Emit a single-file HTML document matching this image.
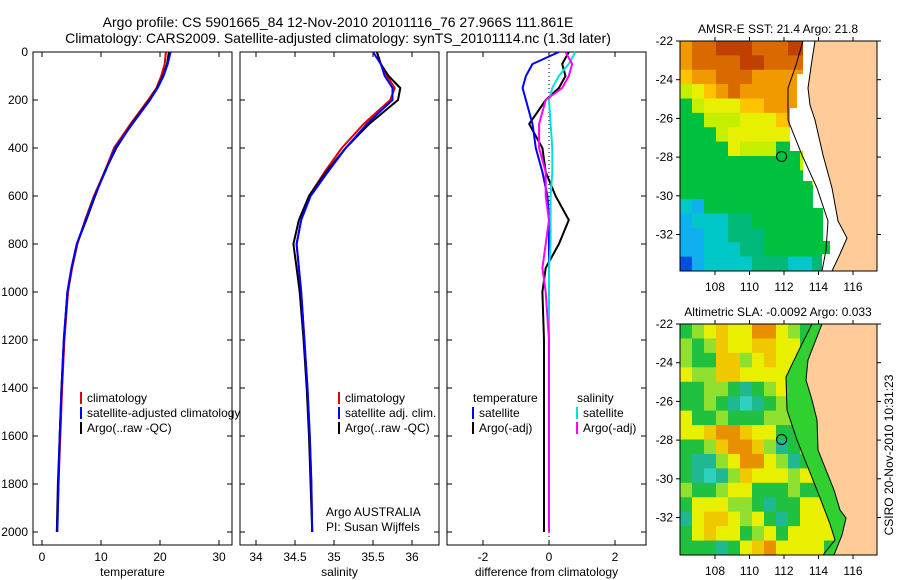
<!DOCTYPE html>
<html><head><meta charset="utf-8">
<style>
body{margin:0;background:#fff;}
svg{display:block;font-family:"Liberation Sans",sans-serif;}
text{fill:#000;}
</style></head>
<body>
<svg id="fig" width="900" height="580" viewBox="0 0 900 580" xmlns="http://www.w3.org/2000/svg">
<rect width="900" height="580" fill="#fff"/>
<text x="338" y="27" font-size="14" text-anchor="middle">Argo profile: CS 5901665_84 12-Nov-2010 20101116_76 27.966S 111.861E</text>
<text x="338" y="43" font-size="14" text-anchor="middle">Climatology: CARS2009. Satellite-adjusted climatology: synTS_20101114.nc (1.3d later)</text>
<g id="plots"></g>
<text transform="translate(893,455) rotate(-90)" font-size="12" text-anchor="middle">CSIRO 20-Nov-2010 10:31:23</text>
</svg>
<script>
// ---- data ----
const depths = [0,50,100,150,200,300,400,500,600,700,800,900,1000,1200,1400,1600,1800,2000];
const tempArgo = [21.5,21.2,20.5,19.5,18.2,15.2,12.6,10.6,9.0,7.5,5.9,5.0,4.3,3.7,3.3,3.0,2.7,2.5];
const tempClim = [21.0,20.8,20.2,19.4,18.0,15.0,12.2,10.6,8.8,7.3,6.0,5.1,4.4,3.8,3.4,3.1,2.8,2.6];
const tempSat  = [21.8,21.3,20.6,19.6,18.3,15.3,12.4,10.7,8.9,7.4,5.9,5.0,4.3,3.7,3.3,3.0,2.8,2.6];
const salArgo = [35.55,35.6,35.7,35.85,35.82,35.45,35.15,34.9,34.68,34.55,34.48,34.52,34.56,34.61,34.65,34.68,34.7,34.72];
const salClim = [35.55,35.6,35.68,35.78,35.72,35.38,35.1,34.88,34.68,34.58,34.52,34.55,34.58,34.62,34.66,34.69,34.71,34.72];
const salSat  = [35.5,35.6,35.65,35.75,35.75,35.42,35.15,34.92,34.7,34.58,34.52,34.55,34.58,34.62,34.66,34.69,34.71,34.72];
const dTempSat  = [0.3,-0.5,-0.7,-0.8,-0.7,-0.5,-0.4,-0.2,-0.05,0.0,0.0,0.0,0.0,0.0,0.0,0.0,0.0,0.0];
const dTempArgo = [0.6,0.4,0.5,0.3,-0.1,-0.6,-0.2,-0.1,0.2,0.6,0.3,-0.1,-0.2,-0.15,-0.15,-0.15,-0.15,-0.15];
const dSalSat   = [0.8,0.6,0.3,0.1,0.0,0.05,0.1,0.1,0.05,0.05,0.05,0.0,0.0,0.0,0.0,0.0,0.0,0.0];
const dSalArgo  = [0.5,0.7,0.6,0.4,-0.1,-0.3,-0.3,-0.1,-0.1,0.0,-0.1,-0.2,-0.1,0.0,0.0,0.0,0.0,0.0];
const depthTicks = [0,200,400,600,800,1000,1200,1400,1600,1800,2000];
const tempTicks = [0,10,20,30];
const salTicks = [34,34.5,35,35.5,36];
const diffTicks = [-2,0,2];
const mapLonTicks = [108,110,112,114,116];
const mapLatTicks = [-22,-24,-26,-28,-30,-32];
const sstGrid = [
"Ooorrrooorrooo","Ooooorrooooroo","yOOoooOOOOOOyy","lYyOoOOOOOOyyy",
"GlYYYyyOOOyyyy","GGlllYYYyOOyyy","GGGlYYYYYYyyyy","GGGGYlllGGlyyy",
"GGGGGGGGGGllyy","GGGGGGGGGGGlll","GGGGGGGGGGGGlg","cbGGGGGGGGGGGg",
"bcccttGGGGGGgg","bbcctttGGGGGGg","bbcccttGGGGGGg","Bbcccctttcctgg"];
const slaGrid = [
"GgyYyyOOygGGGG","gGgYyyYYyyGGGG","gGGYYgyYyyyGGG","yggYYyyyyygGGG",
"GGggGcGgyyggGG","GGgGcCcGgyyGGG","yGGgGGGgggyyGG","yyYOOYyyGGygGG",
"GGgYOOYgcGgyGG","GccgyOOygcGyyG","GcCcgYyyygyYyG","gGGgyyGGGgGGyG",
"GyyyggGcGGyyyG","cyYYygyGcGyyyG","GyYyyGgyGyyyyG","GGGcGyYOyyyyGG"];
const sstColors = {r:"#c04000",o:"#d86a00",O:"#f09a00",y:"#ffc400",Y:"#e6f000",l:"#c4f000",g:"#40d020",G:"#00c040",t:"#00b878",c:"#00c8c8",b:"#10b0f0",B:"#0050e0"};
const slaColors = {G:"#20c040",g:"#90e030",y:"#e8f000",Y:"#f0c800",O:"#e89000",c:"#20b890",C:"#30d0c0"};
const argoLon = 111.861, argoLat = -27.966;

const NS="http://www.w3.org/2000/svg";
const root=document.getElementById('plots');
function mk(tag,attrs,parent){const e=document.createElementNS(NS,tag);for(const k in attrs)e.setAttribute(k,attrs[k]);(parent||root).appendChild(e);return e;}
function txt(x,y,s,size,anchor,parent){const t=mk('text',{x:x,y:y,'font-size':size,'text-anchor':anchor||'middle'},parent);t.textContent=s;return t;}
const P=a=>a.map(p=>p[0]+','+p[1]).join(' ');

const yD = d => 52 + d*0.24;

function panel(name,x0,w,xfun,ticks,label,series,showY,zeroLine){
  const g=mk('g',{});
  
  
  const fr=mk('rect',{x:x0,y:52,width:w,height:493,fill:'none',stroke:'#000','stroke-width':1},g);
  
  
  ticks.forEach(t=>{const x=xfun(t);
    mk('line',{x1:x,x2:x,y1:545,y2:540,stroke:'#000'},g);
    mk('line',{x1:x,x2:x,y1:52,y2:57,stroke:'#000'},g);
    const l=txt(x,561,String(t),12,'middle',g);
    
    
  });
  depthTicks.forEach(d=>{const y=yD(d);
    mk('line',{x1:x0,x2:x0+5,y1:y,y2:y,stroke:'#000'},g);
    mk('line',{x1:x0+w,x2:x0+w-5,y1:y,y2:y,stroke:'#000'},g);
    if(showY){const l=txt(28,y+4,String(d),12,'end',g);
      
      }
  });
  const xl=txt(x0+w/2,576,label,12,'middle',g);
  
  
  if(zeroLine){const zl=mk('line',{x1:xfun(0),x2:xfun(0),y1:52,y2:545,stroke:'#000','stroke-dasharray':'1,3'},g);
    
    }
  series.forEach(s=>{
    const pts=depths.map((d,i)=>xfun(s.v[i]).toFixed(1)+','+yD(d).toFixed(1)).join(' ');
    const p=mk('polyline',{points:pts,fill:'none',stroke:s.c,'stroke-width':2,'stroke-linejoin':'round'},g);
    
    
  });
  return g;
}
const xT=v=>42+v*5.9, xS=v=>256+(v-34)*78, xDf=v=>549+v*33;
panel('temperature-panel',33,199,xT,tempTicks,'temperature',[
 {v:tempClim,c:'#e00000',n:'temp-climatology-line'},{v:tempArgo,c:'#000',n:'temp-argo-line'},{v:tempSat,c:'#0000ff',n:'temp-satellite-line'}],true,false);
panel('salinity-panel',240,199,xS,salTicks,'salinity',[
 {v:salClim,c:'#e00000',n:'sal-climatology-line'},{v:salArgo,c:'#000',n:'sal-argo-line'},{v:salSat,c:'#0000ff',n:'sal-satellite-line'}],false,false);
panel('difference-panel',447,199,xDf,diffTicks,'difference from climatology',[
 {v:dTempArgo,c:'#000',n:'dtemp-argo-line'},{v:dTempSat,c:'#0000ff',n:'dtemp-satellite-line'},{v:dSalSat,c:'#00e0e0',n:'dsal-satellite-line'},{v:dSalArgo,c:'#ff00ff',n:'dsal-argo-line'}],false,true);

function legend(x,y,items,name){
  const g=mk('g',{});
  
  
  items.forEach((it,i)=>{const yy=y+i*15;
    if(it.c) mk('line',{x1:x,x2:x,y1:yy-10,y2:yy+2,stroke:it.c,'stroke-width':2},g);
    const t=txt(x+(it.c?6:0),yy,it.t,12,'start',g);
    
    
  });
}
legend(81,402,[{c:'#e00000',t:'climatology'},{c:'#0000ff',t:'satellite-adjusted climatology'},{c:'#000',t:'Argo(..raw -QC)'}],'temperature-legend');
legend(339,402,[{c:'#e00000',t:'climatology'},{c:'#0000ff',t:'satellite adj. clim.'},{c:'#000',t:'Argo(..raw -QC)'}],'salinity-legend');
legend(473,402,[{t:'temperature'},{c:'#0000ff',t:'satellite'},{c:'#000',t:'Argo(-adj)'}],'difference-temp-legend');
legend(577,402,[{t:'salinity'},{c:'#00e0e0',t:'satellite'},{c:'#ff00ff',t:'Argo(-adj)'}],'difference-sal-legend');
const a1=txt(326,516,'Argo AUSTRALIA',12,'start');


const a2=txt(326,531,'PI: Susan Wijffels',12,'start');



function map(name,top,bottom,title,grid,colors,white,green,land,shelf){
  const g=mk('g',{});
  
  
  const lx=v=>715+(v-108)*17.25, ly=v=>top+(-22-v)*19.35;
  const cw=12, ch=(bottom-top)/16;
  grid.forEach((row,r)=>{[...row].forEach((k,c)=>{
    const cell=mk('rect',{x:680+c*cw,y:top+r*ch,width:cw+0.5,height:ch+0.5,fill:colors[k]},g);
    
    
  });});
  if(white) mk('polygon',{points:P(white),fill:'#fff'},g);
  if(green) mk('polygon',{points:P(green),fill:'#30d030'},g);
  const L=mk('polygon',{points:P(land),fill:'#ffcc99',stroke:'#000','stroke-width':1},g);
  
  
  const S=mk('polyline',{points:P(shelf),fill:'none',stroke:'#000','stroke-width':1},g);
  
  
  const fr=mk('rect',{x:680,y:top,width:197,height:bottom-top,fill:'none',stroke:'#000'},g);
  
  
  const mkr=mk('circle',{cx:lx(argoLon),cy:ly(argoLat),r:5,fill:'none',stroke:'#000','stroke-width':1},g);
  
  
  mapLonTicks.forEach(v=>{const x=lx(v);
    mk('line',{x1:x,x2:x,y1:bottom,y2:bottom+4,stroke:'#000'},g);
    mk('line',{x1:x,x2:x,y1:top,y2:top-4,stroke:'#000'},g);
    const l=txt(x,bottom+20,String(v),12,'middle',g);
    
    });
  mapLatTicks.forEach(v=>{const y=ly(v);
    mk('line',{x1:680,x2:676,y1:y,y2:y,stroke:'#000'},g);
    mk('line',{x1:877,x2:881,y1:y,y2:y,stroke:'#000'},g);
    const l=txt(673,y+4,String(v),12,'end',g);
    
    });
  const t=txt(778,top-8,title,12,'middle',g);
  
  
}
map('sst-map',41,271,'AMSR-E SST: 21.4  Argo: 21.8',sstGrid,sstColors,
  [[803,41],[803,74],[797,74],[797,108],[790,108],[790,151],[803,151],[803,181],[813,181],[813,208],[823,208],[823,241],[830,241],[830,254],[822,254],[822,271],[877,271],[877,41]],
  null,
  [[815,41],[812,60],[808,88],[810,105],[815,120],[823,155],[832,188],[838,221],[847,238],[840,254],[832,271],[877,271],[877,41]],
  [[803,41],[796,65],[788,88],[788,120],[802,155],[817,188],[828,221],[826,250],[822,271]]);
map('sla-map',324,555,'Altimetric SLA: -0.0092  Argo: 0.033',slaGrid,slaColors,
  null,
  [[812,324],[798,352],[786,377],[787,410],[797,440],[817,490],[830,524],[835,540],[823,555],[877,555],[877,324]],
  [[822,324],[808,360],[806,380],[812,400],[817,420],[818,450],[826,470],[834,490],[840,510],[846,518],[842,535],[834,555],[877,555],[877,324]],
  [[812,324],[798,352],[786,377],[787,410],[797,440],[817,490],[830,524],[835,540],[823,555]]);
</script>
</body></html>
